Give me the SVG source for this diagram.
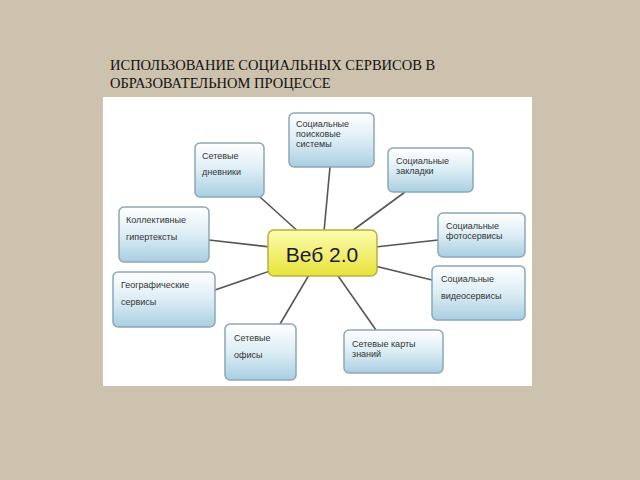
<svg xmlns="http://www.w3.org/2000/svg" width="640" height="480" viewBox="0 0 640 480">
<defs>
<linearGradient id="bl" x1="0" y1="0" x2="0" y2="1"><stop offset="0" stop-color="#ffffff"/><stop offset="0.5" stop-color="#dcedf5"/><stop offset="1" stop-color="#a9cfe1"/></linearGradient>
<linearGradient id="yl" x1="0" y1="0" x2="0" y2="1"><stop offset="0" stop-color="#fcfcb0"/><stop offset="1" stop-color="#e8e33a"/></linearGradient>
</defs>
<style>
.b{fill:url(#bl);stroke:#8fa7b5;stroke-width:1.5}
.t{font-family:"Liberation Sans",Arial,sans-serif;font-size:9px;fill:#333}
.c line{stroke:#555;stroke-width:1.6}
</style>
<rect width="640" height="480" fill="#cdc2ad"/>
<text x="110" y="70" font-family="Liberation Serif,serif" font-size="14.5" fill="#111">ИСПОЛЬЗОВАНИЕ СОЦИАЛЬНЫХ СЕРВИСОВ В</text>
<text x="110" y="88" font-family="Liberation Serif,serif" font-size="14.5" fill="#111">ОБРАЗОВАТЕЛЬНОМ ПРОЦЕССЕ</text>
<rect x="103" y="97" width="429" height="289" fill="#ffffff"/>
<g class="c">
<line x1="322" y1="253" x2="330" y2="167"/>
<line x1="322" y1="253" x2="260" y2="197"/>
<line x1="322" y1="253" x2="405" y2="192"/>
<line x1="322" y1="253" x2="209" y2="240"/>
<line x1="322" y1="253" x2="438" y2="240"/>
<line x1="322" y1="253" x2="215" y2="290"/>
<line x1="322" y1="253" x2="432" y2="280"/>
<line x1="322" y1="253" x2="280" y2="324"/>
<line x1="322" y1="253" x2="376" y2="330"/>
</g>
<g id="n1"><rect class="b" x="289" y="113" width="85" height="54" rx="5"/><text class="t" x="296" y="127">Социальные</text><text class="t" x="296" y="137">поисковые</text><text class="t" x="296" y="147">системы</text></g>
<g id="n2"><rect class="b" x="195" y="143" width="69" height="54" rx="5"/><text class="t" x="202" y="159">Сетевые</text><text class="t" x="202" y="175">дневники</text></g>
<g id="n3"><rect class="b" x="388" y="148" width="85" height="44" rx="5"/><text class="t" x="396" y="164">Социальные</text><text class="t" x="396" y="174">закладки</text></g>
<g id="n4"><rect class="b" x="119" y="207" width="90" height="55" rx="5"/><text class="t" x="126" y="223">Коллективные</text><text class="t" x="126" y="240">гипертексты</text></g>
<g id="n5"><rect class="b" x="438" y="213" width="87" height="44" rx="5"/><text class="t" x="446" y="229">Социальные</text><text class="t" x="446" y="239">фотосервисы</text></g>
<g id="n6"><rect class="b" x="113" y="272" width="102" height="55" rx="5"/><text class="t" x="121" y="288">Географические</text><text class="t" x="121" y="305">сервисы</text></g>
<g id="n7"><rect class="b" x="432" y="266" width="93" height="54" rx="5"/><text class="t" x="441" y="282">Социальные</text><text class="t" x="441" y="299">видеосервисы</text></g>
<g id="n8"><rect class="b" x="225" y="324" width="71" height="56" rx="5"/><text class="t" x="234" y="341">Сетевые</text><text class="t" x="234" y="358">офисы</text></g>
<g id="n9"><rect class="b" x="344" y="330" width="99" height="43" rx="5"/><text class="t" x="352" y="347">Сетевые карты</text><text class="t" x="352" y="357">знаний</text></g>
<g id="center"><rect x="268" y="230" width="109" height="46" rx="6" fill="url(#yl)" stroke="#b8b040" stroke-width="1.5"/><text x="322" y="262" text-anchor="middle" font-family="Liberation Sans,Arial,sans-serif" font-size="21" fill="#1a1a3a">Веб 2.0</text></g>
</svg>
